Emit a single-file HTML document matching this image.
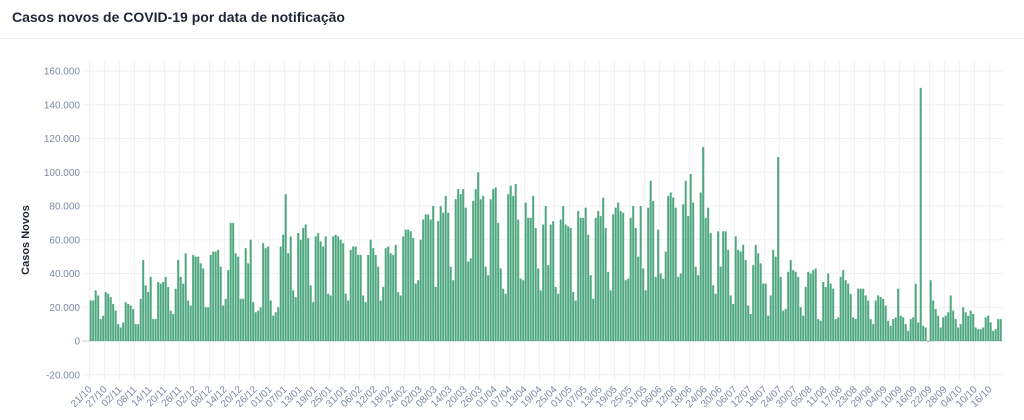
<!DOCTYPE html>
<html><head><meta charset="utf-8">
<style>
body{margin:0;background:#fff;font-family:"Liberation Sans",sans-serif;}
#wrap{position:relative;width:1024px;height:420px;overflow:hidden;}
#title{position:absolute;left:12px;top:9px;font-size:14px;font-weight:bold;color:#1f2633;}
#sep{position:absolute;left:0;top:38px;width:1024px;height:1px;background:#eef1f6;}
</style></head><body>
<div id="wrap">
<div id="title">Casos novos de COVID-19 por data de notificação</div>
<div id="sep"></div>
<svg id="chart" width="1024" height="420" style="position:absolute;left:0;top:0"></svg>
</div>
<script>
// daily new cases (thousands), starting 21/10/2020
const values = [24,24,30,27,13,15,29,28,26,22,18,10,8,11,23,22,21,19,10,10,25,48,33,29,38,13,13,35,34,35,38,32,18,16,31,48,38,34,52,24,21,51,50,50,46,43,20,20,51,53,53,54,44,21,25,42,70,70,52,50,25,25,
55,46,60,23,17,18,20,58,55,56,24,15,17,20,56,63,87,52,62,30,26,64,60,67,69,61,33,23,62,64,59,56,62,28,27,62,63,62,60,58,28,24,54,56,56,51,51,27,23,51,60,55,51,44,24,32,55,56,52,51,57,29,
27,62,66,66,65,61,34,36,60,72,75,75,72,80,32,71,80,76,86,76,44,36,84,90,87,90,79,47,49,83,90,100,84,86,44,39,84,90,91,70,43,31,28,87,92,86,93,72,37,36,82,73,73,86,67,43,30,69,80,45,69,71,
32,28,72,80,69,68,67,29,24,77,73,73,79,63,39,25,73,77,74,85,67,41,30,75,79,82,77,76,36,37,73,80,67,50,80,43,30,79,95,83,38,66,40,37,53,86,88,85,79,38,40,81,95,74,99,82,44,39,88,115,73,79,
64,33,28,65,44,65,65,54,27,22,62,54,53,57,48,21,16,45,57,52,46,34,34,15,27,54,50,109,38,18,19,41,48,42,41,38,20,15,32,41,40,42,43,13,12,35,32,40,34,31,13,14,38,42,36,34,28,14,13,31,31,31,
27,24,13,10,24,27,26,25,21,12,9,13,14,31,15,14,10,6,13,14,34,11,150,9,8,-0.5,36,24,19,15,8,14,15,17,27,18,13,8,10,20,17,15,18,16,8,7,7,8,14,15,11,6,7,13,13];
const startDate = [21,10,2020];
const yTicks = [160,140,120,100,80,60,40,20,0,-20];
const tickEvery = 6;

const svg = document.getElementById('chart');
const NS = 'http://www.w3.org/2000/svg';
const X0 = 89.5, DX = 2.5, Y0 = 341, PXK = 1.6875, XR = 1003;
const xs = i => X0 + DX * i;
const ys = v => Y0 - v * PXK;
function mk(tag, attrs){const e=document.createElementNS(NS,tag);for(const k in attrs)e.setAttribute(k,attrs[k]);svg.appendChild(e);return e;}

const d0 = new Date(startDate[2], startDate[1]-1, startDate[0]);
for(let i=0;i<values.length;i+=tickEvery){
  const x = xs(i);
  const g = mk('line',{x1:x,x2:x,y1:62,y2:382,stroke:'#eef1f6','stroke-width':1});
  
  
  const d = new Date(d0.getTime()+i*86400000);
  const lab = String(d.getDate()).padStart(2,'0')+'/'+String(d.getMonth()+1).padStart(2,'0');
  const t = mk('text',{x:x+3,y:390,'text-anchor':'end','font-size':10,fill:'#7d89a0',transform:`rotate(-45 ${x+3} 390)`});
  t.textContent = lab;
  
  
}
yTicks.forEach(v=>{
  const y = ys(v);
  const l = mk('line',{x1:82,x2:XR,y1:y,y2:y,stroke:v===0?'#c9ced8':'#eef1f6','stroke-width':1});
  
  
  const t = mk('text',{x:80,y:y+3.5,'text-anchor':'end','font-size':10,fill:'#7d89a0'});
  t.textContent = v===0?'0':(v<0?'-':'')+Math.abs(v)+'.000';
  
  
});
values.forEach((v,i)=>{
  const y = ys(Math.max(v,0)), h = Math.abs(v)*PXK;
  const b = mk('rect',{x:xs(i)+0.2,y:v>=0?y:Y0,width:2,height:Math.max(h,0.5),fill:'#3f9f74','fill-opacity':0.92});
  
  
});
const yt = mk('text',{x:29,y:240,'text-anchor':'middle','font-size':11,'font-weight':'bold',fill:'#1f2633',transform:'rotate(-90 29 240)'});
yt.textContent='Casos Novos';


</script>
</body></html>
